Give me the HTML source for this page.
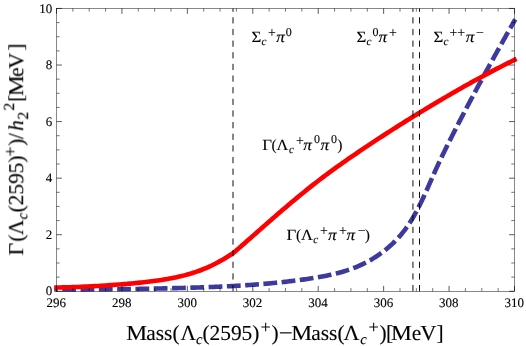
<!DOCTYPE html>
<html>
<head>
<meta charset="utf-8">
<title>Lambda_c(2595) partial widths</title>
<style>
html,body{margin:0;padding:0;background:#ffffff;}
body{width:526px;height:346px;overflow:hidden;font-family:"Liberation Serif",serif;}
svg{display:block;}
svg text{font-family:"Liberation Serif",serif;fill:#000;stroke:#000;stroke-width:0.12px;text-rendering:geometricPrecision;}
.tx{will-change:transform;}
.tl{font-size:13.00px;}
.fr{fill:none;stroke:#111;stroke-width:0.5;}
.tM{stroke:#000;stroke-width:0.65;}
.tm{stroke:#000;stroke-width:0.55;}
.vl{stroke:#000;stroke-width:0.95;stroke-dasharray:6.2 5.44;}
.red{fill:none;stroke:#ff0000;stroke-width:4.60;stroke-linejoin:round;}
.blue{fill:none;stroke:#3c3a9d;stroke-width:4.60;stroke-linejoin:round;stroke-dasharray:13.8 4.5;stroke-dashoffset:10.30;}
</style>
</head>
<body>
<svg width="526" height="346" viewBox="0 0 526 346">
<rect x="0" y="0" width="526" height="346" fill="#ffffff"/>
<defs><clipPath id="pc"><rect x="53" y="4" width="466" height="287.85"/></clipPath></defs>
<g clip-path="url(#pc)">
<path class="blue" d="M54.24 289.77 L56.54 289.76 L58.04 289.76 L59.53 289.75 L61.03 289.74 L62.53 289.74 L64.03 289.73 L65.53 289.72 L67.03 289.71 L68.53 289.70 L70.03 289.69 L71.53 289.69 L73.03 289.68 L74.53 289.67 L76.03 289.66 L77.53 289.65 L79.04 289.64 L80.54 289.62 L82.04 289.61 L83.54 289.60 L85.04 289.59 L86.55 289.58 L88.05 289.56 L89.55 289.55 L91.05 289.54 L92.56 289.52 L94.06 289.51 L95.56 289.49 L97.07 289.48 L98.57 289.46 L100.07 289.45 L101.58 289.43 L103.08 289.42 L104.59 289.40 L106.09 289.38 L107.60 289.37 L109.10 289.35 L110.60 289.33 L112.11 289.31 L113.61 289.29 L115.12 289.27 L116.62 289.25 L118.13 289.23 L119.63 289.21 L121.14 289.19 L122.64 289.17 L124.15 289.15 L125.65 289.12 L127.16 289.10 L128.66 289.08 L130.17 289.06 L131.67 289.03 L133.18 289.01 L134.68 288.98 L136.19 288.96 L137.69 288.93 L139.20 288.90 L140.71 288.88 L142.21 288.85 L143.72 288.82 L145.22 288.79 L146.73 288.77 L148.23 288.74 L149.74 288.71 L151.24 288.68 L152.75 288.65 L154.25 288.62 L155.76 288.58 L157.26 288.55 L158.76 288.52 L160.27 288.49 L161.77 288.45 L163.28 288.42 L164.78 288.38 L166.29 288.35 L167.79 288.31 L169.29 288.28 L170.80 288.24 L172.30 288.20 L173.80 288.17 L175.31 288.13 L176.81 288.09 L178.31 288.05 L179.82 288.01 L181.32 287.97 L182.82 287.93 L184.33 287.89 L185.83 287.84 L187.33 287.80 L188.83 287.76 L190.33 287.71 L191.83 287.67 L193.34 287.62 L194.84 287.58 L196.34 287.53 L197.84 287.48 L199.34 287.43 L200.84 287.38 L202.34 287.33 L203.84 287.28 L205.34 287.23 L206.84 287.17 L208.34 287.12 L209.84 287.06 L211.34 287.00 L212.84 286.94 L214.34 286.88 L215.84 286.82 L217.34 286.75 L218.84 286.69 L220.34 286.62 L221.84 286.56 L223.34 286.49 L224.84 286.42 L226.34 286.34 L227.83 286.27 L229.33 286.19 L230.83 286.11 L232.33 286.03 L233.83 285.95 L235.33 285.87 L236.82 285.79 L238.32 285.70 L239.82 285.61 L241.32 285.52 L242.82 285.43 L244.31 285.33 L245.81 285.23 L247.31 285.13 L248.81 285.03 L250.31 284.93 L251.80 284.82 L253.30 284.71 L254.80 284.60 L256.30 284.49 L257.79 284.37 L259.29 284.26 L260.79 284.14 L262.28 284.01 L263.78 283.89 L265.28 283.76 L266.78 283.63 L268.27 283.50 L269.77 283.36 L271.27 283.22 L272.77 283.08 L274.26 282.93 L275.76 282.79 L277.26 282.64 L278.75 282.48 L280.25 282.33 L281.75 282.17 L283.25 282.00 L284.74 281.84 L286.24 281.67 L287.74 281.50 L289.24 281.32 L290.73 281.14 L292.23 280.96 L293.73 280.78 L295.23 280.59 L296.72 280.40 L298.22 280.20 L299.72 280.00 L301.22 279.80 L302.71 279.60 L304.21 279.39 L305.71 279.17 L307.21 278.96 L308.70 278.74 L310.20 278.51 L311.70 278.28 L313.20 278.05 L314.69 277.81 L316.19 277.57 L317.68 277.32 L319.18 277.06 L320.67 276.80 L322.16 276.53 L323.65 276.25 L325.13 275.97 L326.62 275.67 L328.10 275.37 L329.58 275.06 L331.05 274.73 L332.53 274.40 L334.00 274.06 L335.46 273.70 L336.92 273.34 L338.38 272.96 L339.83 272.57 L341.28 272.17 L342.73 271.75 L344.17 271.32 L345.60 270.87 L347.03 270.42 L348.45 269.94 L349.87 269.45 L351.28 268.95 L352.68 268.43 L354.08 267.89 L355.47 267.34 L356.86 266.76 L358.24 266.18 L359.61 265.57 L360.97 264.95 L362.32 264.31 L363.67 263.66 L365.01 262.99 L366.34 262.30 L367.66 261.60 L368.97 260.88 L370.28 260.15 L371.57 259.40 L372.85 258.63 L374.12 257.85 L375.39 257.06 L376.64 256.24 L377.88 255.42 L379.11 254.57 L380.33 253.72 L381.54 252.84 L382.74 251.96 L383.92 251.05 L385.09 250.14 L386.25 249.20 L387.40 248.26 L388.53 247.30 L389.65 246.32 L390.76 245.33 L391.85 244.32 L392.93 243.31 L394.00 242.27 L395.05 241.23 L396.09 240.16 L397.11 239.09 L398.12 238.00 L399.11 236.90 L400.08 235.78 L401.04 234.66 L401.99 233.51 L402.91 232.36 L403.83 231.19 L404.72 230.01 L405.61 228.81 L406.47 227.61 L407.33 226.39 L408.17 225.17 L409.00 223.93 L409.81 222.68 L410.61 221.42 L411.40 220.15 L412.18 218.87 L412.95 217.59 L413.70 216.29 L414.45 214.99 L415.18 213.68 L415.91 212.36 L416.63 211.03 L417.33 209.70 L418.03 208.36 L418.72 207.01 L419.41 205.66 L420.09 204.31 L420.75 202.94 L421.42 201.58 L422.07 200.20 L422.73 198.83 L423.37 197.45 L424.01 196.07 L424.65 194.68 L425.28 193.29 L425.91 191.90 L426.54 190.51 L427.16 189.11 L427.78 187.72 L428.40 186.32 L429.01 184.92 L429.63 183.53 L430.24 182.13 L430.86 180.73 L431.47 179.34 L432.08 177.94 L432.70 176.55 L433.31 175.15 L433.93 173.76 L434.55 172.38 L435.17 170.99 L435.79 169.61 L436.42 168.24 L437.05 166.86 L437.68 165.49 L438.32 164.12 L438.95 162.76 L439.59 161.39 L440.24 160.03 L440.88 158.68 L441.53 157.32 L442.18 155.97 L442.83 154.62 L443.48 153.27 L444.14 151.92 L444.80 150.58 L445.46 149.23 L446.12 147.89 L446.78 146.55 L447.45 145.21 L448.11 143.87 L448.78 142.53 L449.45 141.19 L450.12 139.85 L450.79 138.51 L451.47 137.18 L452.14 135.84 L452.82 134.50 L453.50 133.17 L454.17 131.83 L454.85 130.49 L455.54 129.16 L456.22 127.82 L456.90 126.49 L457.59 125.15 L458.27 123.82 L458.96 122.48 L459.65 121.15 L460.34 119.82 L461.03 118.49 L461.72 117.15 L462.41 115.82 L463.11 114.49 L463.80 113.16 L464.50 111.83 L465.20 110.49 L465.89 109.16 L466.59 107.83 L467.29 106.50 L468.00 105.17 L468.70 103.84 L469.40 102.52 L470.11 101.19 L470.81 99.86 L471.52 98.53 L472.22 97.20 L472.93 95.88 L473.64 94.55 L474.35 93.22 L475.06 91.90 L475.77 90.57 L476.49 89.25 L477.20 87.92 L477.91 86.60 L478.63 85.27 L479.35 83.95 L480.06 82.63 L480.78 81.30 L481.50 79.98 L482.22 78.66 L482.94 77.34 L483.66 76.01 L484.38 74.69 L485.10 73.37 L485.82 72.05 L486.55 70.73 L487.27 69.41 L487.99 68.09 L488.72 66.77 L489.45 65.46 L490.17 64.14 L490.90 62.82 L491.63 61.50 L492.36 60.19 L493.08 58.87 L493.81 57.55 L494.54 56.24 L495.27 54.92 L496.01 53.61 L496.74 52.29 L497.47 50.98 L498.20 49.67 L498.94 48.35 L499.67 47.04 L500.40 45.73 L501.14 44.42 L501.87 43.10 L502.61 41.79 L503.34 40.48 L504.08 39.17 L504.82 37.86 L505.55 36.55 L506.29 35.24 L507.03 33.94 L507.76 32.63 L508.50 31.32 L509.24 30.01 L509.98 28.71 L510.72 27.40 L511.46 26.09 L512.20 24.79 L512.94 23.48 L513.68 22.18 L514.42 20.87 L515.30 19.31"/>
<path class="red" d="M54.20 287.53 L56.50 287.51 L58.48 287.48 L60.47 287.45 L62.45 287.42 L64.43 287.38 L66.42 287.33 L68.40 287.27 L70.38 287.22 L72.37 287.15 L74.35 287.08 L76.33 287.01 L78.31 286.93 L80.30 286.85 L82.28 286.76 L84.26 286.67 L86.25 286.58 L88.23 286.48 L90.21 286.38 L92.20 286.27 L94.18 286.16 L96.16 286.05 L98.15 285.93 L100.13 285.81 L102.11 285.69 L104.10 285.56 L106.08 285.43 L108.06 285.30 L110.04 285.16 L112.03 285.02 L114.01 284.88 L115.99 284.73 L117.98 284.58 L119.96 284.43 L121.94 284.27 L123.93 284.11 L125.91 283.94 L127.89 283.77 L129.88 283.60 L131.86 283.42 L133.84 283.24 L135.83 283.05 L137.81 282.86 L139.79 282.66 L141.78 282.45 L143.76 282.24 L145.74 282.02 L147.72 281.79 L149.71 281.55 L151.69 281.31 L153.67 281.05 L155.66 280.79 L157.64 280.51 L159.62 280.23 L161.61 279.93 L163.59 279.62 L165.57 279.30 L167.56 278.96 L169.54 278.60 L171.52 278.23 L173.51 277.85 L175.49 277.44 L177.47 277.02 L179.46 276.57 L181.44 276.11 L183.42 275.62 L185.40 275.10 L187.39 274.57 L189.37 274.00 L191.35 273.41 L193.34 272.79 L195.32 272.14 L197.30 271.45 L199.29 270.74 L201.27 269.99 L203.25 269.21 L205.24 268.39 L207.22 267.54 L209.20 266.65 L211.19 265.72 L213.17 264.75 L215.15 263.75 L217.13 262.71 L219.12 261.64 L221.10 260.53 L223.08 259.39 L225.07 258.22 L227.05 257.02 L229.03 255.79 L231.02 254.55 L233.00 253.30 L234.89 251.66 L236.78 250.02 L238.67 248.38 L240.56 246.73 L242.45 245.07 L244.34 243.42 L246.22 241.76 L248.11 240.10 L250.00 238.43 L251.89 236.77 L253.78 235.10 L255.67 233.44 L257.56 231.77 L259.45 230.11 L261.34 228.45 L263.23 226.78 L265.12 225.13 L267.01 223.47 L268.90 221.82 L270.79 220.17 L272.67 218.52 L274.56 216.88 L276.45 215.24 L278.34 213.61 L280.23 211.98 L282.12 210.36 L284.01 208.74 L285.90 207.13 L287.79 205.52 L289.68 203.92 L291.57 202.33 L293.46 200.75 L295.35 199.17 L297.23 197.61 L299.12 196.05 L301.01 194.50 L302.90 192.96 L304.79 191.42 L306.68 189.90 L308.57 188.39 L310.46 186.89 L312.35 185.40 L314.24 183.92 L316.13 182.45 L318.02 180.99 L319.91 179.54 L321.80 178.11 L323.68 176.68 L325.57 175.27 L327.46 173.86 L329.35 172.47 L331.24 171.08 L333.13 169.71 L335.02 168.34 L336.91 166.98 L338.80 165.63 L340.69 164.28 L342.58 162.95 L344.47 161.62 L346.36 160.30 L348.24 158.98 L350.13 157.67 L352.02 156.37 L353.91 155.08 L355.80 153.79 L357.69 152.50 L359.58 151.22 L361.47 149.94 L363.36 148.67 L365.25 147.41 L367.14 146.15 L369.03 144.89 L370.92 143.63 L372.81 142.38 L374.69 141.14 L376.58 139.90 L378.47 138.66 L380.36 137.43 L382.25 136.20 L384.14 134.98 L386.03 133.75 L387.92 132.54 L389.81 131.32 L391.70 130.11 L393.59 128.91 L395.48 127.70 L397.37 126.50 L399.26 125.31 L401.14 124.12 L403.03 122.93 L404.92 121.74 L406.81 120.56 L408.70 119.38 L410.59 118.21 L412.48 117.04 L414.37 115.87 L416.26 114.71 L418.15 113.55 L420.04 112.40 L421.93 111.25 L423.82 110.10 L425.70 108.96 L427.59 107.82 L429.48 106.68 L431.37 105.55 L433.26 104.43 L435.15 103.30 L437.04 102.18 L438.93 101.06 L440.82 99.95 L442.71 98.84 L444.60 97.74 L446.49 96.63 L448.38 95.53 L450.27 94.44 L452.15 93.34 L454.04 92.26 L455.93 91.17 L457.82 90.09 L459.71 89.01 L461.60 87.94 L463.49 86.87 L465.38 85.80 L467.27 84.74 L469.16 83.69 L471.05 82.63 L472.94 81.59 L474.83 80.54 L476.71 79.50 L478.60 78.47 L480.49 77.44 L482.38 76.42 L484.27 75.40 L486.16 74.38 L488.05 73.38 L489.94 72.37 L491.83 71.37 L493.72 70.38 L495.61 69.39 L497.50 68.41 L499.39 67.44 L501.28 66.47 L503.16 65.50 L505.05 64.54 L506.94 63.59 L508.83 62.64 L510.72 61.70 L512.61 60.77 L514.50 59.84 L516.56 58.83"/>
</g>
<g>
<line class="vl" x1="233.00" y1="291.2" x2="233.00" y2="8.45"/>
<line class="vl" x1="412.95" y1="291.2" x2="412.95" y2="8.45"/>
<line class="vl" x1="419.50" y1="291.2" x2="419.50" y2="8.45"/>
</g>
<rect class="fr" x="56.50" y="8.45" width="458.00" height="282.85"/>
<g>
<line class="tM" x1="56.50" y1="291.30" x2="56.50" y2="285.90"/>
<line class="tM" x1="56.50" y1="8.45" x2="56.50" y2="13.85"/>
<line class="tm" x1="72.86" y1="291.30" x2="72.86" y2="288.10"/>
<line class="tm" x1="72.86" y1="8.45" x2="72.86" y2="11.65"/>
<line class="tm" x1="89.21" y1="291.30" x2="89.21" y2="288.10"/>
<line class="tm" x1="89.21" y1="8.45" x2="89.21" y2="11.65"/>
<line class="tm" x1="105.57" y1="291.30" x2="105.57" y2="288.10"/>
<line class="tm" x1="105.57" y1="8.45" x2="105.57" y2="11.65"/>
<line class="tM" x1="121.93" y1="291.30" x2="121.93" y2="285.90"/>
<line class="tM" x1="121.93" y1="8.45" x2="121.93" y2="13.85"/>
<line class="tm" x1="138.29" y1="291.30" x2="138.29" y2="288.10"/>
<line class="tm" x1="138.29" y1="8.45" x2="138.29" y2="11.65"/>
<line class="tm" x1="154.64" y1="291.30" x2="154.64" y2="288.10"/>
<line class="tm" x1="154.64" y1="8.45" x2="154.64" y2="11.65"/>
<line class="tm" x1="171.00" y1="291.30" x2="171.00" y2="288.10"/>
<line class="tm" x1="171.00" y1="8.45" x2="171.00" y2="11.65"/>
<line class="tM" x1="187.36" y1="291.30" x2="187.36" y2="285.90"/>
<line class="tM" x1="187.36" y1="8.45" x2="187.36" y2="13.85"/>
<line class="tm" x1="203.71" y1="291.30" x2="203.71" y2="288.10"/>
<line class="tm" x1="203.71" y1="8.45" x2="203.71" y2="11.65"/>
<line class="tm" x1="220.07" y1="291.30" x2="220.07" y2="288.10"/>
<line class="tm" x1="220.07" y1="8.45" x2="220.07" y2="11.65"/>
<line class="tm" x1="236.43" y1="291.30" x2="236.43" y2="288.10"/>
<line class="tm" x1="236.43" y1="8.45" x2="236.43" y2="11.65"/>
<line class="tM" x1="252.79" y1="291.30" x2="252.79" y2="285.90"/>
<line class="tM" x1="252.79" y1="8.45" x2="252.79" y2="13.85"/>
<line class="tm" x1="269.14" y1="291.30" x2="269.14" y2="288.10"/>
<line class="tm" x1="269.14" y1="8.45" x2="269.14" y2="11.65"/>
<line class="tm" x1="285.50" y1="291.30" x2="285.50" y2="288.10"/>
<line class="tm" x1="285.50" y1="8.45" x2="285.50" y2="11.65"/>
<line class="tm" x1="301.86" y1="291.30" x2="301.86" y2="288.10"/>
<line class="tm" x1="301.86" y1="8.45" x2="301.86" y2="11.65"/>
<line class="tM" x1="318.21" y1="291.30" x2="318.21" y2="285.90"/>
<line class="tM" x1="318.21" y1="8.45" x2="318.21" y2="13.85"/>
<line class="tm" x1="334.57" y1="291.30" x2="334.57" y2="288.10"/>
<line class="tm" x1="334.57" y1="8.45" x2="334.57" y2="11.65"/>
<line class="tm" x1="350.93" y1="291.30" x2="350.93" y2="288.10"/>
<line class="tm" x1="350.93" y1="8.45" x2="350.93" y2="11.65"/>
<line class="tm" x1="367.29" y1="291.30" x2="367.29" y2="288.10"/>
<line class="tm" x1="367.29" y1="8.45" x2="367.29" y2="11.65"/>
<line class="tM" x1="383.64" y1="291.30" x2="383.64" y2="285.90"/>
<line class="tM" x1="383.64" y1="8.45" x2="383.64" y2="13.85"/>
<line class="tm" x1="400.00" y1="291.30" x2="400.00" y2="288.10"/>
<line class="tm" x1="400.00" y1="8.45" x2="400.00" y2="11.65"/>
<line class="tm" x1="416.36" y1="291.30" x2="416.36" y2="288.10"/>
<line class="tm" x1="416.36" y1="8.45" x2="416.36" y2="11.65"/>
<line class="tm" x1="432.71" y1="291.30" x2="432.71" y2="288.10"/>
<line class="tm" x1="432.71" y1="8.45" x2="432.71" y2="11.65"/>
<line class="tM" x1="449.07" y1="291.30" x2="449.07" y2="285.90"/>
<line class="tM" x1="449.07" y1="8.45" x2="449.07" y2="13.85"/>
<line class="tm" x1="465.43" y1="291.30" x2="465.43" y2="288.10"/>
<line class="tm" x1="465.43" y1="8.45" x2="465.43" y2="11.65"/>
<line class="tm" x1="481.79" y1="291.30" x2="481.79" y2="288.10"/>
<line class="tm" x1="481.79" y1="8.45" x2="481.79" y2="11.65"/>
<line class="tm" x1="498.14" y1="291.30" x2="498.14" y2="288.10"/>
<line class="tm" x1="498.14" y1="8.45" x2="498.14" y2="11.65"/>
<line class="tM" x1="514.50" y1="291.30" x2="514.50" y2="285.90"/>
<line class="tM" x1="514.50" y1="8.45" x2="514.50" y2="13.85"/>
<line class="tM" x1="56.50" y1="291.30" x2="61.90" y2="291.30"/>
<line class="tM" x1="514.50" y1="291.30" x2="509.10" y2="291.30"/>
<line class="tm" x1="56.50" y1="277.16" x2="59.70" y2="277.16"/>
<line class="tm" x1="514.50" y1="277.16" x2="511.30" y2="277.16"/>
<line class="tm" x1="56.50" y1="263.01" x2="59.70" y2="263.01"/>
<line class="tm" x1="514.50" y1="263.01" x2="511.30" y2="263.01"/>
<line class="tm" x1="56.50" y1="248.87" x2="59.70" y2="248.87"/>
<line class="tm" x1="514.50" y1="248.87" x2="511.30" y2="248.87"/>
<line class="tM" x1="56.50" y1="234.73" x2="61.90" y2="234.73"/>
<line class="tM" x1="514.50" y1="234.73" x2="509.10" y2="234.73"/>
<line class="tm" x1="56.50" y1="220.59" x2="59.70" y2="220.59"/>
<line class="tm" x1="514.50" y1="220.59" x2="511.30" y2="220.59"/>
<line class="tm" x1="56.50" y1="206.44" x2="59.70" y2="206.44"/>
<line class="tm" x1="514.50" y1="206.44" x2="511.30" y2="206.44"/>
<line class="tm" x1="56.50" y1="192.30" x2="59.70" y2="192.30"/>
<line class="tm" x1="514.50" y1="192.30" x2="511.30" y2="192.30"/>
<line class="tM" x1="56.50" y1="178.16" x2="61.90" y2="178.16"/>
<line class="tM" x1="514.50" y1="178.16" x2="509.10" y2="178.16"/>
<line class="tm" x1="56.50" y1="164.02" x2="59.70" y2="164.02"/>
<line class="tm" x1="514.50" y1="164.02" x2="511.30" y2="164.02"/>
<line class="tm" x1="56.50" y1="149.88" x2="59.70" y2="149.88"/>
<line class="tm" x1="514.50" y1="149.88" x2="511.30" y2="149.88"/>
<line class="tm" x1="56.50" y1="135.73" x2="59.70" y2="135.73"/>
<line class="tm" x1="514.50" y1="135.73" x2="511.30" y2="135.73"/>
<line class="tM" x1="56.50" y1="121.59" x2="61.90" y2="121.59"/>
<line class="tM" x1="514.50" y1="121.59" x2="509.10" y2="121.59"/>
<line class="tm" x1="56.50" y1="107.45" x2="59.70" y2="107.45"/>
<line class="tm" x1="514.50" y1="107.45" x2="511.30" y2="107.45"/>
<line class="tm" x1="56.50" y1="93.30" x2="59.70" y2="93.30"/>
<line class="tm" x1="514.50" y1="93.30" x2="511.30" y2="93.30"/>
<line class="tm" x1="56.50" y1="79.16" x2="59.70" y2="79.16"/>
<line class="tm" x1="514.50" y1="79.16" x2="511.30" y2="79.16"/>
<line class="tM" x1="56.50" y1="65.02" x2="61.90" y2="65.02"/>
<line class="tM" x1="514.50" y1="65.02" x2="509.10" y2="65.02"/>
<line class="tm" x1="56.50" y1="50.88" x2="59.70" y2="50.88"/>
<line class="tm" x1="514.50" y1="50.88" x2="511.30" y2="50.88"/>
<line class="tm" x1="56.50" y1="36.73" x2="59.70" y2="36.73"/>
<line class="tm" x1="514.50" y1="36.73" x2="511.30" y2="36.73"/>
<line class="tm" x1="56.50" y1="22.59" x2="59.70" y2="22.59"/>
<line class="tm" x1="514.50" y1="22.59" x2="511.30" y2="22.59"/>
<line class="tM" x1="56.50" y1="8.45" x2="61.90" y2="8.45"/>
<line class="tM" x1="514.50" y1="8.45" x2="509.10" y2="8.45"/>
</g>
<g class="tx">
<text class="tl" x="56.30" y="307.3" text-anchor="middle">296</text>
<text class="tl" x="121.73" y="307.3" text-anchor="middle">298</text>
<text class="tl" x="187.16" y="307.3" text-anchor="middle">300</text>
<text class="tl" x="252.59" y="307.3" text-anchor="middle">302</text>
<text class="tl" x="318.01" y="307.3" text-anchor="middle">304</text>
<text class="tl" x="383.44" y="307.3" text-anchor="middle">306</text>
<text class="tl" x="448.87" y="307.3" text-anchor="middle">308</text>
<text class="tl" x="514.30" y="307.3" text-anchor="middle">310</text>
<text class="tl" x="52.3" y="295.45" text-anchor="end">0</text>
<text class="tl" x="52.3" y="238.88" text-anchor="end">2</text>
<text class="tl" x="52.3" y="182.31" text-anchor="end">4</text>
<text class="tl" x="52.3" y="125.74" text-anchor="end">6</text>
<text class="tl" x="52.3" y="69.17" text-anchor="end">8</text>
<text class="tl" x="52.3" y="12.60" text-anchor="end">10</text>
</g>
<g class="tx">
<text transform="translate(251.60 42.10) scale(1.080 1)" font-size="15.60">Σ</text>
<text x="261.50" y="45.14" font-size="11.28" font-style="italic">c</text>
<text x="267.90" y="37.19" font-size="13.92">+</text>
<text transform="translate(276.20 42.10) scale(1.100 1)" font-size="15.60" font-style="italic">π</text>
<text x="285.70" y="35.86" font-size="12.00">0</text>
<text transform="translate(356.60 42.10) scale(1.080 1)" font-size="15.60">Σ</text>
<text x="366.50" y="45.14" font-size="11.28" font-style="italic">c</text>
<text x="372.50" y="35.86" font-size="12.00">0</text>
<text transform="translate(378.60 42.10) scale(1.100 1)" font-size="15.60" font-style="italic">π</text>
<text x="388.90" y="37.19" font-size="13.92">+</text>
<text transform="translate(433.60 42.10) scale(1.080 1)" font-size="15.60">Σ</text>
<text x="443.40" y="45.14" font-size="11.28" font-style="italic">c</text>
<text x="449.60" y="37.19" font-size="13.92">+</text>
<text x="457.20" y="37.19" font-size="13.92">+</text>
<text transform="translate(465.80 42.10) scale(1.100 1)" font-size="15.60" font-style="italic">π</text>
<text x="476.00" y="37.19" font-size="13.92">−</text>
<text transform="translate(262.20 149.70) scale(1.080 1)" font-size="15.60">Γ</text>
<text x="271.60" y="149.70" font-size="15.60">(</text>
<text transform="translate(276.50 149.70) scale(1.050 1)" font-size="15.60">Λ</text>
<text x="288.90" y="152.74" font-size="11.28" font-style="italic">c</text>
<text x="295.90" y="144.79" font-size="13.92">+</text>
<text transform="translate(303.30 149.70) scale(1.100 1)" font-size="15.60" font-style="italic">π</text>
<text x="314.00" y="143.46" font-size="12.00">0</text>
<text transform="translate(320.40 149.70) scale(1.100 1)" font-size="15.60" font-style="italic">π</text>
<text x="331.10" y="143.46" font-size="12.00">0</text>
<text x="337.30" y="149.70" font-size="15.60">)</text>
<text transform="translate(286.60 240.30) scale(1.080 1)" font-size="15.60">Γ</text>
<text x="296.00" y="240.30" font-size="15.60">(</text>
<text transform="translate(301.10 240.30) scale(1.050 1)" font-size="15.60">Λ</text>
<text x="313.30" y="243.34" font-size="11.28" font-style="italic">c</text>
<text x="319.90" y="235.39" font-size="13.92">+</text>
<text transform="translate(327.90 240.30) scale(1.100 1)" font-size="15.60" font-style="italic">π</text>
<text x="338.90" y="235.39" font-size="13.92">+</text>
<text transform="translate(346.60 240.30) scale(1.100 1)" font-size="15.60" font-style="italic">π</text>
<text x="357.70" y="235.39" font-size="13.92">−</text>
<text x="364.80" y="240.30" font-size="15.60">)</text>
</g>
<g class="tx">
<text transform="translate(126.20 340.10) scale(1.100 1)" font-size="21.40">M</text>
<text x="146.30" y="340.10" font-size="21.40">ass(</text>
<text x="180.40" y="340.10" font-size="21.40">Λ</text>
<text x="196.00" y="344.27" font-size="14.66" font-style="italic">c</text>
<text x="202.40" y="340.10" font-size="21.40">(2595)</text>
<text x="260.60" y="333.36" font-size="18.10">+</text>
<text x="271.40" y="340.10" font-size="21.40">)</text>
<text transform="translate(278.70 340.10) scale(1.160 1)" font-size="21.40">−</text>
<text transform="translate(291.20 340.10) scale(1.100 1)" font-size="21.40">M</text>
<text x="311.30" y="340.10" font-size="21.40">ass(</text>
<text transform="translate(343.40 340.10) scale(1.040 1)" font-size="21.40">Λ</text>
<text x="360.20" y="344.27" font-size="14.66" font-style="italic">c</text>
<text x="368.60" y="333.36" font-size="18.10">+</text>
<text x="379.60" y="340.10" font-size="21.40">)</text>
<text x="386.00" y="340.10" font-size="21.40">[</text>
<text transform="translate(391.00 340.10) scale(1.100 1)" font-size="21.40">M</text>
<text x="411.80" y="340.10" font-size="21.40">e</text>
<text transform="translate(420.20 340.10) scale(1.050 1)" font-size="21.40">V</text>
<text x="436.60" y="340.10" font-size="21.40">]</text>
</g>
<g class="tx" transform="translate(23.2 255.4) rotate(-90)">
<text transform="translate(-0.20 0.00) scale(1.050 1)" font-size="21.40">Γ</text>
<text x="13.80" y="0.00" font-size="21.40">(</text>
<text x="20.20" y="0.00" font-size="21.40">Λ</text>
<text x="36.10" y="4.17" font-size="14.66" font-style="italic">c</text>
<text x="42.90" y="0.00" font-size="21.40">(2595)</text>
<text x="98.80" y="-6.74" font-size="18.10">+</text>
<text x="109.40" y="0.00" font-size="21.40">)</text>
<text x="116.20" y="0.00" font-size="21.40">/</text>
<text x="124.40" y="0.00" font-size="21.40" font-style="italic">h</text>
<text x="135.80" y="4.81" font-size="15.60">2</text>
<text x="144.80" y="-8.56" font-size="15.60">2</text>
<text x="153.40" y="0.00" font-size="21.40">[</text>
<text transform="translate(159.20 0.00) scale(1.100 1)" font-size="21.40">M</text>
<text x="178.50" y="0.00" font-size="21.40">e</text>
<text transform="translate(186.40 0.00) scale(1.050 1)" font-size="21.40">V</text>
<text x="204.80" y="0.00" font-size="21.40">]</text>
</g>
</svg>
</body>
</html>
